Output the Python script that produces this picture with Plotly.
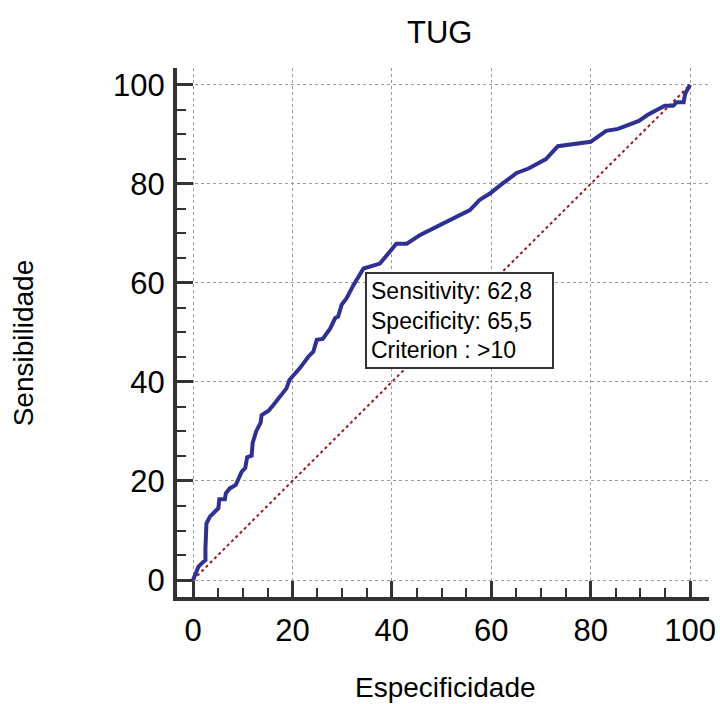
import plotly.graph_objects as go

# ROC curve (100 - specificity vs sensitivity)
fpr = [0, 0.7, 1.1, 2.1, 2.5, 2.5, 2.7, 3.4, 4.1, 5.1,
       5.3, 6.4, 6.6, 7.4, 8.6, 9.1, 9.8, 10.5, 10.9, 11.8,
       12.0, 12.7, 13.6, 13.8, 15.2, 16.2, 17.2, 18.8, 19.4, 21.5,
       23.2, 24.2, 24.9, 26.1, 27.6, 28.6, 29.2, 29.9, 30.9, 32.3,
       34.3, 37.6, 40.9, 43.0, 45.7, 49.0, 52.4, 55.7, 57.7, 59.8,
       61.9, 65.1, 67.5, 71.0, 73.4, 80.0, 83.1, 85.5, 89.7, 91.4,
       94.9, 96.6, 97.3, 98.7, 99.0, 99.4, 99.9, 100]
sensitivity = [0, 2, 2.7, 3.7, 4, 6.4, 11.4, 12.8, 13.6, 14.5,
               16.3, 16.3, 17.5, 18.5, 19.2, 20.5, 21.9, 22.6, 24.8, 25.1,
               27.7, 30, 31.8, 33.3, 34.2, 35.4, 36.7, 38.7, 40.4, 42.8,
               45.1, 46.1, 48.5, 48.7, 50.8, 52.9, 53.2, 55.6, 56.9, 59.6,
               62.9, 63.9, 67.9, 67.9, 69.7, 71.4, 73.1, 74.7, 76.8, 78.1,
               79.8, 82.2, 83.1, 85.0, 87.6, 88.5, 90.7, 91.1, 92.7, 93.9,
               95.8, 95.8, 96.5, 96.5, 98.2, 98.9, 99.5, 100]
diag_x = [0, 100]
diag_y = [0, 100]
tick_vals = [0, 20, 40, 60, 80, 100]
tick_text = ["0", "20", "40", "60", "80", "100"]

title_text = "TUG"
x_title = "Especificidade"
y_title = "Sensibilidade"
box_text = "Sensitivity: 62,8<br>Specificity: 65,5<br>Criterion : >10"
box_x = 34.6
box_y = 62.2

FONT = "Liberation Sans, Arial, sans-serif"

fig = go.Figure()
fig.add_trace(go.Scatter(x=diag_x, y=diag_y, mode="lines",
                         line=dict(color="#9b1b1b", width=2, dash="dot"),
                         hoverinfo="skip", showlegend=False))
fig.add_trace(go.Scatter(x=fpr, y=sensitivity, mode="lines",
                         line=dict(color="#2e3192", width=4),
                         showlegend=False))

axis_common = dict(
    showline=True, linecolor="#333333", linewidth=4,
    ticks="inside", ticklen=16, tickwidth=3, tickcolor="#333333",
    tickvals=tick_vals, ticktext=tick_text,
    tickfont=dict(family=FONT, size=31, color="black"),
    showgrid=True, gridcolor="#9a9a9a", gridwidth=1, griddash="dot",
    zeroline=False, automargin=False,
    minor=dict(dtick=5, tick0=0, ticks="inside", ticklen=9, tickwidth=2,
               tickcolor="#333333", showgrid=False),
)

fig.update_xaxes(range=[-3.22, 103.8], ticklabelstandoff=3, **axis_common)
fig.update_yaxes(range=[-3.43, 103.4], ticklabelstandoff=2, **axis_common)

fig.update_layout(
    width=720, height=704,
    margin=dict(l=177, r=11, t=68, b=107, autoexpand=False),
    paper_bgcolor="white", plot_bgcolor="white",
    font=dict(family=FONT, color="black"),
    annotations=[
        dict(text=title_text, xref="paper", yref="paper", x=0.494, y=1.068,
             xanchor="center", yanchor="middle", showarrow=False,
             font=dict(family=FONT, size=31, color="black")),
        dict(text=x_title, xref="paper", yref="paper", x=0.505, y=-0.172,
             xanchor="center", yanchor="middle", showarrow=False,
             font=dict(family=FONT, size=28, color="black")),
        dict(text=y_title, xref="paper", yref="paper", x=-0.289, y=0.48,
             xanchor="center", yanchor="middle", showarrow=False, textangle=-90,
             font=dict(family=FONT, size=28, color="black")),
        dict(text=box_text, xref="x", yref="y", x=box_x, y=box_y,
             xanchor="left", yanchor="top", showarrow=False, align="left",
             width=177, height=85,
             bgcolor="white", bordercolor="#333333", borderwidth=2, borderpad=4,
             font=dict(family=FONT, size=23, color="black")),
    ],
)

fig.write_html(
    "out.html",
    config={"displayModeBar": False},
    post_script="document.body.style.margin='0';document.body.style.overflow='hidden';",
)
